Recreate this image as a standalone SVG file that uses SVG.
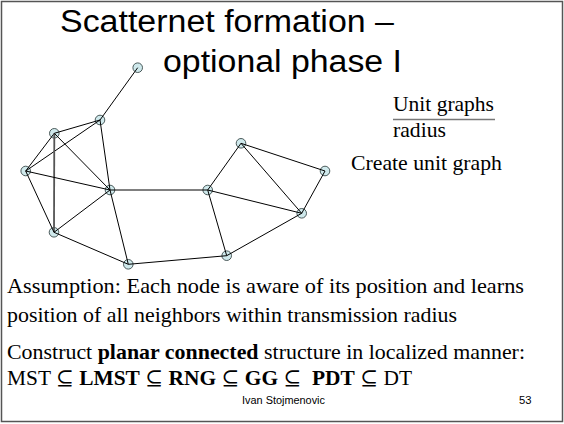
<svg xmlns="http://www.w3.org/2000/svg" width="564" height="424" viewBox="0 0 564 424">
<style>
.title{font-family:"Liberation Sans",Arial,sans-serif;font-size:31px;fill:#000}
.body{font-family:"Liberation Serif","Times New Roman","DejaVu Serif",serif;font-size:21px;fill:#000}
.b{font-weight:bold}
.foot{font-family:"Liberation Sans",Arial,sans-serif;font-size:10px;fill:#000}
.node circle{fill:#cfe9ec;stroke:#3a4a4a;stroke-width:0.9}
.edges line{stroke:#000;stroke-width:1}
</style>
<rect x="1.5" y="1.5" width="561" height="420" fill="#fff" stroke="#555" stroke-width="1.5"/>
<text class="title" x="60" y="32" textLength="334" lengthAdjust="spacingAndGlyphs">Scatternet formation –</text>
<text class="title" x="163" y="72" textLength="239" lengthAdjust="spacingAndGlyphs">optional phase I</text>
<g id="nodes">
<g id="nA" class="node"><circle cx="137.7" cy="67.7" r="4.8"/></g>
<g id="nB" class="node"><circle cx="100" cy="120" r="4.8"/></g>
<g id="nC" class="node"><circle cx="54.3" cy="133.3" r="4.8"/></g>
<g id="nD" class="node"><circle cx="25.7" cy="171" r="4.8"/></g>
<g id="nE" class="node"><circle cx="110" cy="190" r="4.8"/></g>
<g id="nF" class="node"><circle cx="54" cy="232.3" r="4.8"/></g>
<g id="nG" class="node"><circle cx="128.3" cy="264.3" r="4.8"/></g>
<g id="nH" class="node"><circle cx="207.7" cy="190" r="4.8"/></g>
<g id="nI" class="node"><circle cx="241" cy="143.3" r="4.8"/></g>
<g id="nJ" class="node"><circle cx="325" cy="171" r="4.8"/></g>
<g id="nK" class="node"><circle cx="301.7" cy="213.3" r="4.8"/></g>
<g id="nL" class="node"><circle cx="226.7" cy="255.7" r="4.8"/></g>
</g>
<g id="connectors" class="edges">
<line x1="137.7" y1="67.7" x2="100" y2="120"/>
<line x1="100" y1="120" x2="54.3" y2="133.3"/>
<line x1="100" y1="120" x2="25.7" y2="171"/>
<line x1="100" y1="120" x2="110" y2="190"/>
<line x1="54.3" y1="133.3" x2="25.7" y2="171"/>
<line x1="54.3" y1="133.3" x2="54" y2="232.3" style="stroke:#555;stroke-width:1.8"/>
<line x1="54.3" y1="133.3" x2="110" y2="190"/>
<line x1="25.7" y1="171" x2="110" y2="190"/>
<line x1="25.7" y1="171" x2="54" y2="232.3"/>
<line x1="54" y1="232.3" x2="110" y2="190"/>
<line x1="54" y1="232.3" x2="128.3" y2="264.3"/>
<line x1="110" y1="190" x2="128.3" y2="264.3"/>
<line x1="110" y1="190" x2="207.7" y2="190"/>
<line x1="207.7" y1="190" x2="241" y2="143.3"/>
<line x1="207.7" y1="190" x2="301.7" y2="213.3"/>
<line x1="207.7" y1="190" x2="226.7" y2="255.7"/>
<line x1="241" y1="143.3" x2="325" y2="171"/>
<line x1="241" y1="143.3" x2="301.7" y2="213.3"/>
<line x1="325" y1="171" x2="301.7" y2="213.3"/>
<line x1="301.7" y1="213.3" x2="226.7" y2="255.7"/>
<line x1="226.7" y1="255.7" x2="128.3" y2="264.3"/>
</g>
<text class="body" x="393" y="111" textLength="101" lengthAdjust="spacingAndGlyphs">Unit graphs</text>
<line x1="393" y1="119.5" x2="495" y2="119.5" stroke="#777" stroke-width="1.5"/>
<text class="body" x="393" y="137" textLength="53" lengthAdjust="spacingAndGlyphs">radius</text>
<text class="body" x="351" y="170" textLength="151" lengthAdjust="spacingAndGlyphs">Create unit graph</text>
<text class="body" x="7" y="293" textLength="517" lengthAdjust="spacingAndGlyphs">Assumption: Each node is aware of its position and learns</text>
<text class="body" x="7" y="321.5" textLength="450" lengthAdjust="spacingAndGlyphs">position of all neighbors within transmission radius</text>
<text class="body" x="7" y="358.5" textLength="518" lengthAdjust="spacingAndGlyphs">Construct <tspan class="b">planar connected</tspan> structure in localized manner:</text>
<text class="body" x="7" y="385" textLength="405" lengthAdjust="spacingAndGlyphs">MST ⊆ <tspan class="b">LMST</tspan> ⊆ <tspan class="b">RNG</tspan> ⊆ <tspan class="b">GG</tspan> ⊆&#160; <tspan class="b">PDT</tspan> ⊆ DT</text>
<text class="foot" x="242" y="404" textLength="83" lengthAdjust="spacingAndGlyphs">Ivan Stojmenovic</text>
<text class="foot" x="519" y="404" textLength="12.5" lengthAdjust="spacingAndGlyphs">53</text>
</svg>
